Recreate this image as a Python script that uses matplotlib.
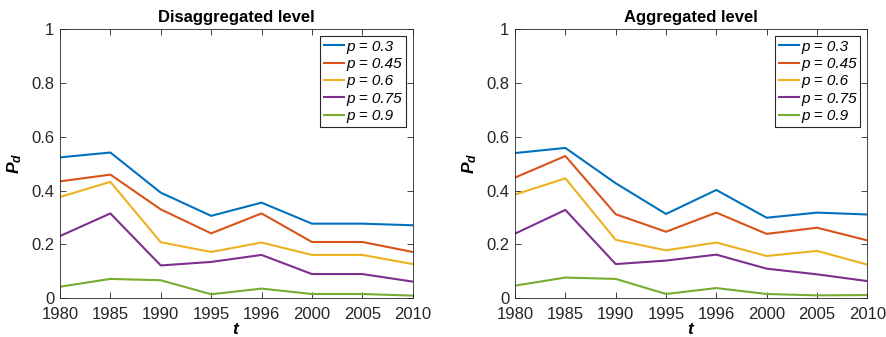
import matplotlib
matplotlib.use("Agg")
import matplotlib.pyplot as plt
import numpy as np

years = ["1980", "1985", "1990", "1995", "1996", "2000", "2005", "2010"]
p_labels = ["p = 0.3", "p = 0.45", "p = 0.6", "p = 0.75", "p = 0.9"]

# Disaggregated level, one list per p
dis_p03 = [0.523, 0.541, 0.392, 0.306, 0.355, 0.277, 0.277, 0.271]
dis_p045 = [0.434, 0.459, 0.330, 0.241, 0.315, 0.209, 0.209, 0.172]
dis_p06 = [0.376, 0.432, 0.208, 0.172, 0.207, 0.161, 0.161, 0.127]
dis_p075 = [0.231, 0.315, 0.122, 0.135, 0.161, 0.090, 0.090, 0.062]
dis_p09 = [0.043, 0.072, 0.067, 0.015, 0.036, 0.016, 0.016, 0.010]

# Aggregated level
agg_p03 = [0.539, 0.558, 0.427, 0.313, 0.402, 0.299, 0.318, 0.311]
agg_p045 = [0.448, 0.528, 0.312, 0.247, 0.318, 0.239, 0.262, 0.215]
agg_p06 = [0.385, 0.445, 0.217, 0.178, 0.207, 0.157, 0.176, 0.125]
agg_p075 = [0.240, 0.328, 0.127, 0.140, 0.162, 0.110, 0.089, 0.064]
agg_p09 = [0.047, 0.077, 0.072, 0.016, 0.038, 0.016, 0.011, 0.012]

colors = ["#0072BD", "#D95319", "#EDB120", "#7E2F8E", "#77AC30"]
axis_color = "#262626"

plt.rcParams.update({
    "font.family": "Liberation Sans",
    "font.size": 10,
    "mathtext.fontset": "custom",
    "mathtext.it": "Liberation Sans:italic:bold",
    "mathtext.rm": "Liberation Sans:bold",
})

fig = plt.figure(figsize=(8.86, 3.37), dpi=100)
ax1 = fig.add_axes([0.0677, 0.1148, 0.3981, 0.7997])
ax2 = fig.add_axes([0.5813, 0.1148, 0.3976, 0.7997])

panels = [
    (ax1, "Disaggregated level", [dis_p03, dis_p045, dis_p06, dis_p075, dis_p09]),
    (ax2, "Aggregated level", [agg_p03, agg_p045, agg_p06, agg_p075, agg_p09]),
]

x = np.arange(len(years))
for ax, title, series in panels:
    for vals, c, lab in zip(series, colors, p_labels):
        ax.plot(x, vals, color=c, lw=1.5, label=lab)
    ax.set_xlim(0, len(years) - 1)
    ax.set_ylim(0, 1)
    ax.set_xticks(x)
    ax.set_xticklabels(years)
    ax.set_yticks([0, 0.2, 0.4, 0.6, 0.8, 1.0])
    ax.set_yticklabels(["0", "0.2", "0.4", "0.6", "0.8", "1"])
    ax.tick_params(direction="in", top=True, right=True, length=4, width=0.6,
                   colors=axis_color, labelsize=12)
    ax.tick_params(axis="x", pad=6)
    ax.tick_params(axis="y", pad=4)
    for s in ax.spines.values():
        s.set_color(axis_color)
        s.set_linewidth(0.6)
    ax.set_title(title, fontsize=12, fontweight="bold", pad=5)
    ax.set_xlabel("$t$", fontsize=12.5, labelpad=0.5)
    ax.set_ylabel("$P_d$", fontsize=12.5, labelpad=5)
    leg = ax.legend(loc="upper right", handlelength=1.3,
                    handletextpad=0.15, labelspacing=0.22, borderpad=0.25,
                    borderaxespad=0.45, fancybox=False, framealpha=1,
                    edgecolor=axis_color, prop={"style": "italic", "size": 11})
    leg.get_frame().set_linewidth(0.8)

fig.savefig("out.png", dpi=100)
